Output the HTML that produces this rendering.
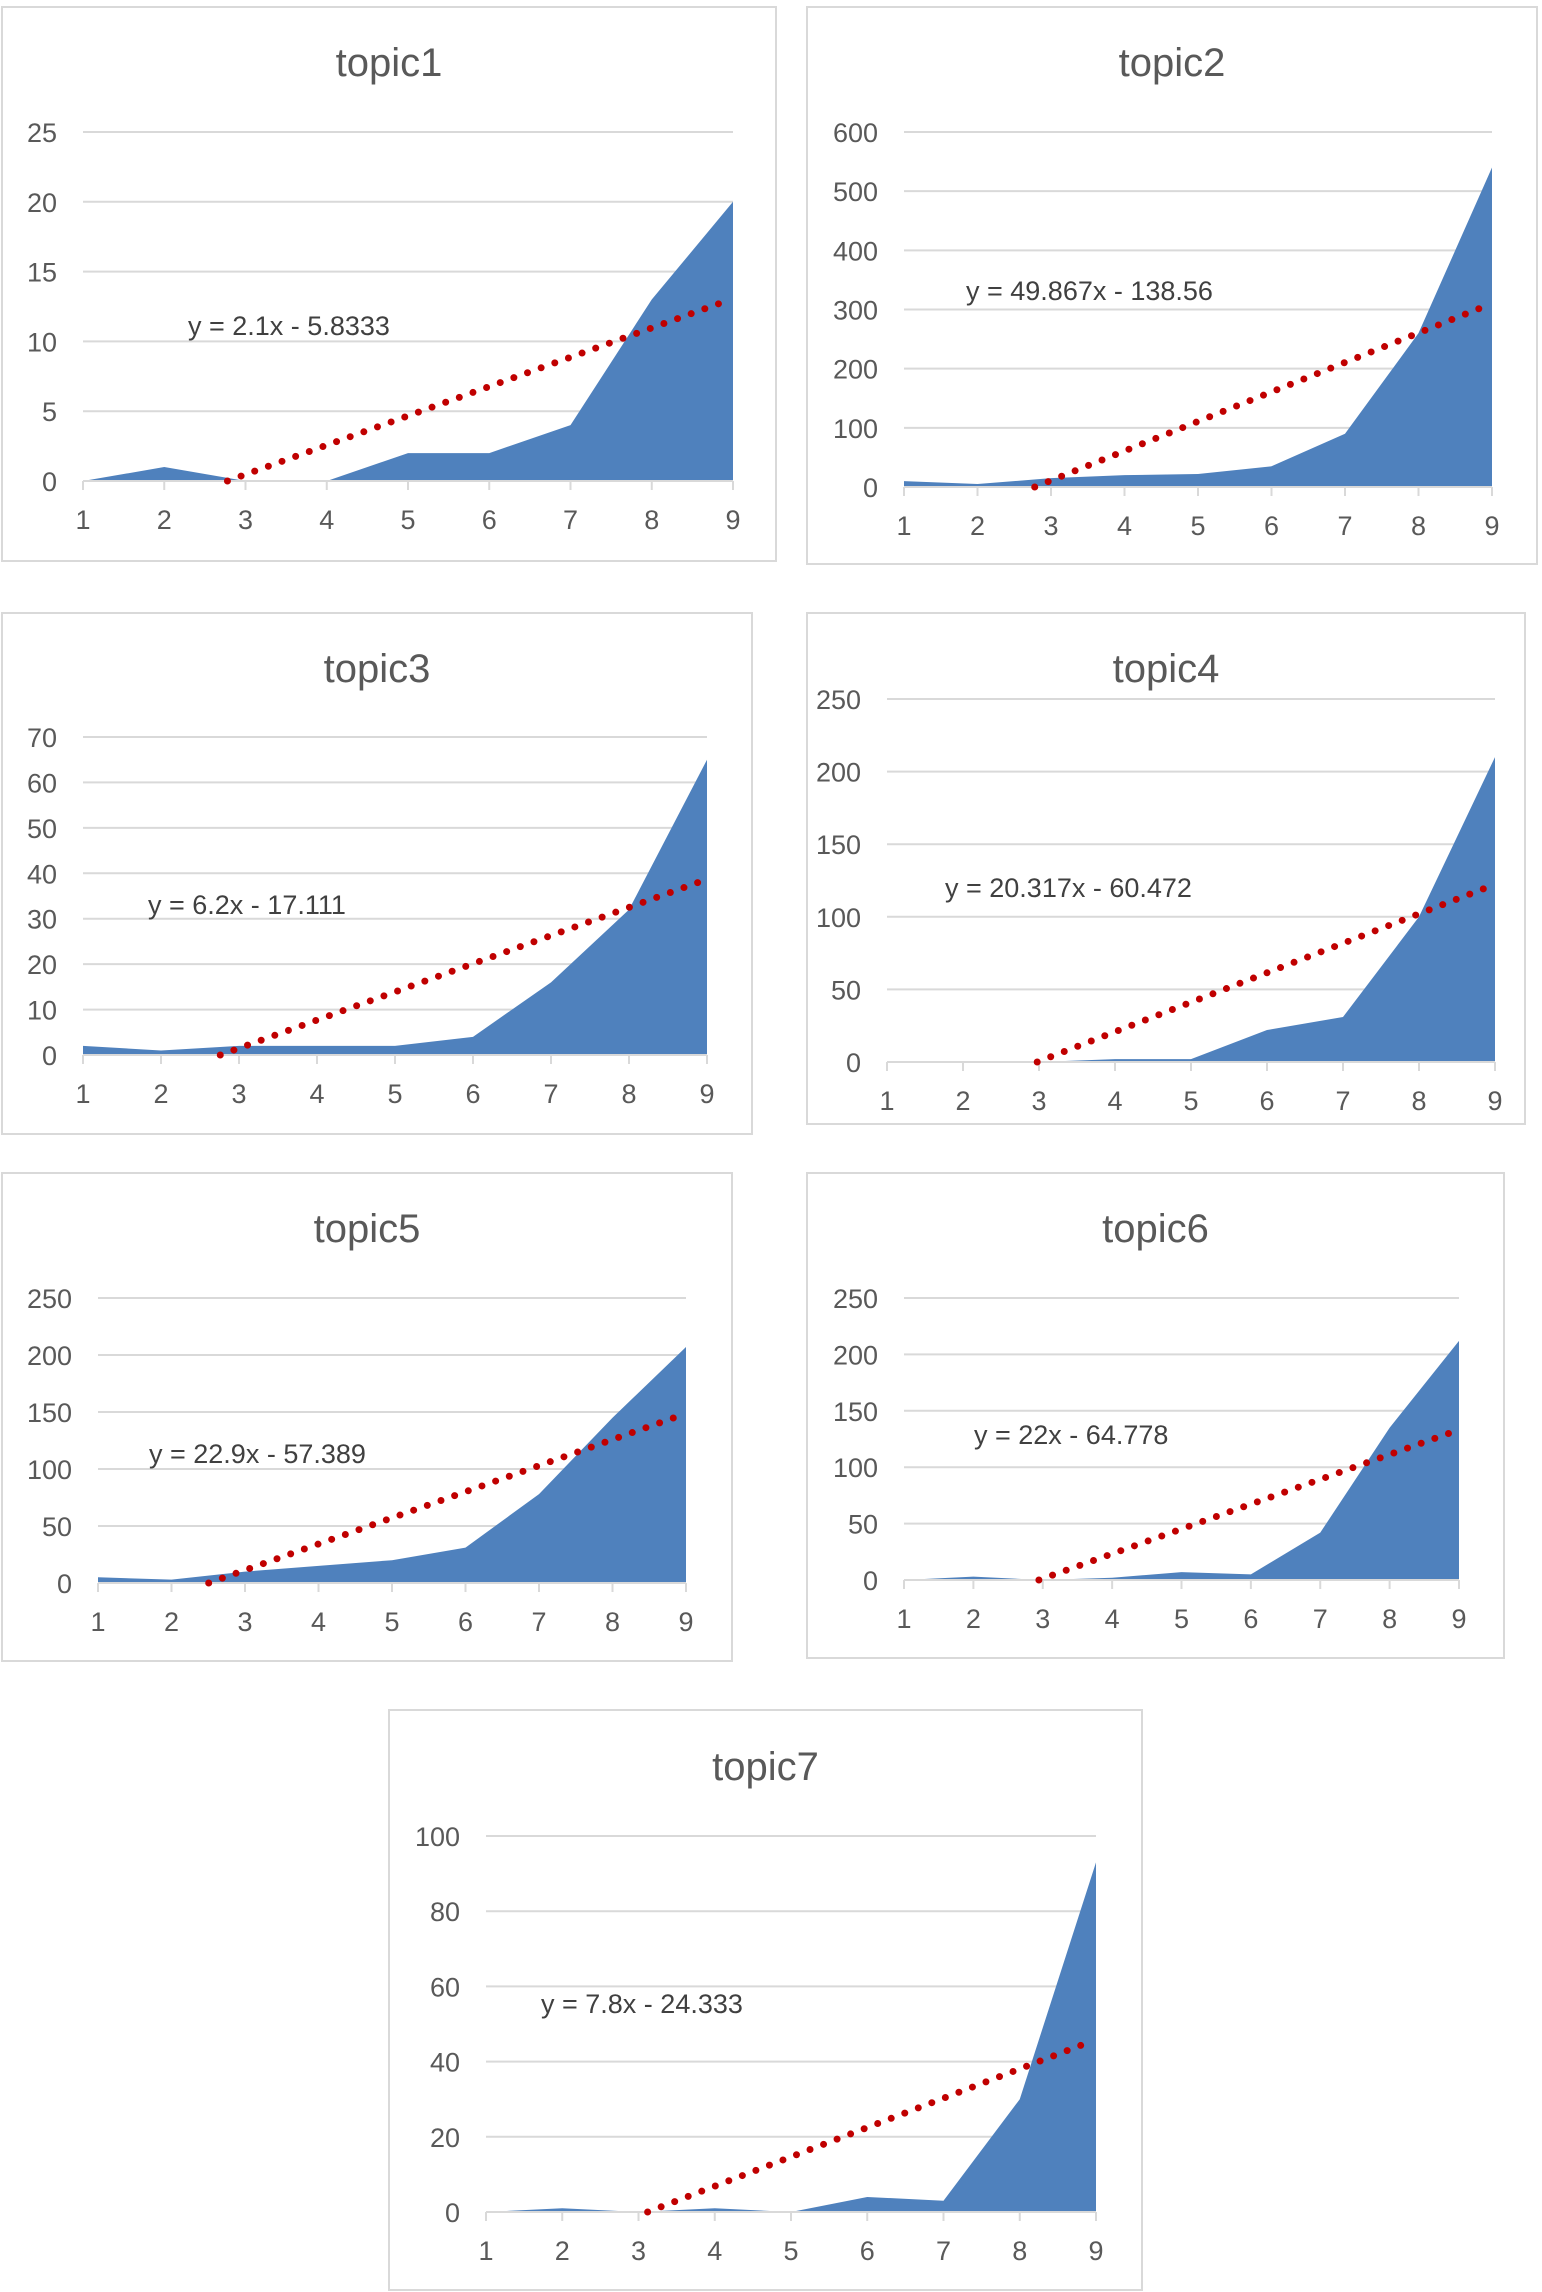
<!DOCTYPE html>
<html><head><meta charset="utf-8">
<style>
html,body{margin:0;padding:0;background:#fff;}
svg{display:block;font-family:"Liberation Sans",sans-serif;}
</style></head>
<body>
<svg id="c" width="1542" height="2292" viewBox="0 0 1542 2292" xmlns="http://www.w3.org/2000/svg"></svg>
<script>
const categories=[1,2,3,4,5,6,7,8,9];
const topicNames=["topic1","topic2","topic3","topic4","topic5","topic6","topic7"];
const s1=[0,1,0,0,2,2,4,13,20];
const s2=[10,5,15,20,22,35,90,260,540];
const s3=[2,1,2,2,2,4,16,32,65];
const s4=[0,0,0,2,2,22,31,100,210];
const s5=[5,3,10,15,20,31,78,145,207];
const s6=[0,3,0,2,7,5,42,135,212];
const s7=[0,1,0,1,0,4,3,30,93];
const slopes=[2.1,49.867,6.2,20.317,22.9,22,7.8];
const intercepts=[-5.8333,-138.56,-17.111,-60.472,-57.389,-64.778,-24.333];
const equations=["y = 2.1x - 5.8333","y = 49.867x - 138.56","y = 6.2x - 17.111","y = 20.317x - 60.472","y = 22.9x - 57.389","y = 22x - 64.778","y = 7.8x - 24.333"];
const yMaxes=[25,600,70,250,250,250,100];
const ySteps=[5,100,10,50,50,50,20];
const series=[s1,s2,s3,s4,s5,s6,s7];
// layout (pixels)
const panels=[
 {b:[1,6,777,562],p:[83,733,481,132],t:76,e:[188,325]},
 {b:[806,6,1538,565],p:[904,1492,487,132],t:76,e:[966,290]},
 {b:[1,612,753,1135],p:[83,707,1055,737],t:682,e:[148,904]},
 {b:[806,612,1526,1125],p:[887,1495,1062,699],t:682,e:[945,887]},
 {b:[1,1172,733,1662],p:[98,686,1583,1298],t:1242,e:[149,1453]},
 {b:[806,1172,1505,1659],p:[904,1459,1580,1298],t:1242,e:[974,1434]},
 {b:[388,1709,1143,2291],p:[486,1096,2212,1836],t:1780,e:[541,2003]}
];
const svg=document.getElementById('c');
const NS='http://www.w3.org/2000/svg';
function mk(tag,attrs,parent){const e=document.createElementNS(NS,tag);for(const k in attrs)e.setAttribute(k,attrs[k]);(parent||svg).appendChild(e);return e;}
panels.forEach((P,i)=>{
 const g=mk('g',{});
 
 
 const [bx0,by0,bx1,by1]=P.b;
 const fr=mk('rect',{x:bx0+1,y:by0+1,width:bx1-bx0-2,height:by1-by0-2,fill:'#fff',stroke:'#d9d9d9','stroke-width':2},g);
 
 
 const [x0,x1,y0,yTop]=P.p;
 const ymax=yMaxes[i];
 const X=c=>x0+(c-1)*(x1-x0)/(categories.length-1);
 const Y=v=>y0-v*(y0-yTop)/ymax;
 const tt=mk('text',{x:(bx0+bx1)/2,y:P.t,'text-anchor':'middle','font-size':40,fill:'#595959'},g);
 tt.textContent=topicNames[i];
 
 
 for(let v=0;v<=ymax;v+=ySteps[i]){
  if(v>0){const gl=mk('line',{x1:x0,x2:x1,y1:Y(v),y2:Y(v),stroke:'#d9d9d9','stroke-width':2},g);
   
   }
  const tl=mk('text',{x:x0-26,y:Y(v)+10,'text-anchor':'end','font-size':27,fill:'#595959'},g);
  tl.textContent=v;
  
  
 }
 const data=series[i];
 let d='M'+X(categories[0])+','+Y(0);
 categories.forEach((c,k)=>{d+=' L'+X(c)+','+Y(data[k]);});
 d+=' L'+X(categories[categories.length-1])+','+Y(0)+' Z';
 const ar=mk('path',{d:d,fill:'#4f81bd'},g);
 
 
 const ax=mk('line',{x1:x0,x2:x1,y1:y0,y2:y0,stroke:'#d9d9d9','stroke-width':2},g);
 
 
 categories.forEach(c=>{
  mk('line',{x1:X(c),x2:X(c),y1:y0,y2:y0+9,stroke:'#d9d9d9','stroke-width':2},g);
  const xl=mk('text',{x:X(c),y:y0+48,'text-anchor':'middle','font-size':27,fill:'#595959'},g);
  xl.textContent=c;
  
  
 });
 const m=slopes[i],b=intercepts[i];
 let xs=1; if(m+b<0) xs=-b/m;
 const xe=8.9;
 const tr=mk('line',{x1:X(xs),y1:Y(m*xs+b),x2:X(xe),y2:Y(m*xe+b),stroke:'#c00000','stroke-width':7,'stroke-linecap':'round','stroke-dasharray':'0 14.5'},g);
 
 
 const eq=mk('text',{x:P.e[0],y:P.e[1]+10,'font-size':27,fill:'#404040'},g);
 eq.textContent=equations[i];
 
 
});
</script>
</body></html>
